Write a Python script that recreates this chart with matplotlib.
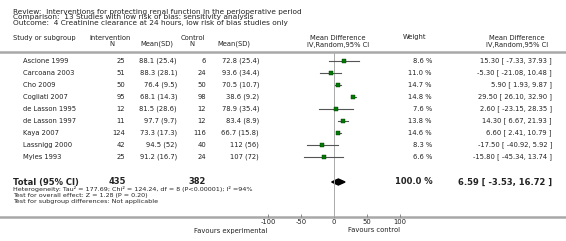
import matplotlib
matplotlib.use('Agg')
import matplotlib.pyplot as plt
from matplotlib.patches import Polygon

# study-level data
studies = ['Ascione 1999', 'Carcoana 2003', 'Cho 2009', 'Cogliati 2007', 'de Lasson 1995',
           'de Lasson 1997', 'Kaya 2007', 'Lassnigg 2000', 'Myles 1993']
int_n = [25, 51, 50, 95, 12, 11, 124, 42, 25]
int_msd = ['88.1 (25.4)', '88.3 (28.1)', '76.4 (9.5)', '68.1 (14.3)', '81.5 (28.6)',
           '97.7 (9.7)', '73.3 (17.3)', '94.5 (52)', '91.2 (16.7)']
ctl_n = [6, 24, 50, 98, 12, 12, 116, 40, 24]
ctl_msd = ['72.8 (25.4)', '93.6 (34.4)', '70.5 (10.7)', '38.6 (9.2)', '78.9 (35.4)',
           '83.4 (8.9)', '66.7 (15.8)', '112 (56)', '107 (72)']
weights = [8.6, 11.0, 14.7, 14.8, 7.6, 13.8, 14.6, 8.3, 6.6]
md = [15.30, -5.30, 5.90, 29.50, 2.60, 14.30, 6.60, -17.50, -15.80]
ci_lo = [-7.33, -21.08, 1.93, 26.10, -23.15, 6.67, 2.41, -40.92, -45.34]
ci_hi = [37.93, 10.48, 9.87, 32.90, 28.35, 21.93, 10.79, 5.92, 13.74]
total_n = (435, 382)
total_md, total_lo, total_hi = 6.59, -3.53, 16.72
ticks = [-100, -50, 0, 50, 100]

W, H = 566, 241
fig = plt.figure(figsize=(W / 100, H / 100), dpi=100)
fig.patch.set_facecolor('white')

# overlay axes in pixel units for the table text
ax0 = fig.add_axes([0, 0, 1, 1])
ax0.set_xlim(0, W)
ax0.set_ylim(H, 0)
ax0.axis('off')

txt = '#222222'
fs = 4.9

def t(x, y, s, ha='left', size=fs, weight='normal', color=txt):
    ax0.text(x, y, s, ha=ha, va='center', fontsize=size, fontweight=weight, color=color)

t(13, 12, 'Review:  Interventions for protecting renal function in the perioperative period', size=5.3)
t(13, 17.5, 'Comparison:  13 Studies with low risk of bias: sensitivity analysis', size=5.3)
t(13, 23.5, 'Outcome:  4 Creatinine clearance at 24 hours, low risk of bias studies only', size=5.3)

t(13, 38, 'Study or subgroup')
t(110, 37.5, 'Intervention', ha='center')
t(112, 44, 'N', ha='center')
t(157, 44, 'Mean(SD)', ha='center')
t(193, 37.5, 'Control', ha='center')
t(192, 44, 'N', ha='center')
t(234, 44, 'Mean(SD)', ha='center')
t(338, 37.5, 'Mean Difference', ha='center')
t(338, 44.5, 'IV,Random,95% CI', ha='center')
t(415, 37.5, 'Weight', ha='center')
t(517, 37.5, 'Mean Difference', ha='center')
t(517, 44.5, 'IV,Random,95% CI', ha='center')

ax0.plot([0, W], [52, 52], color='#a8a8a8', lw=1.8)
ax0.plot([0, W], [217, 217], color='#a8a8a8', lw=1.8)

row_y0, row_dy = 60.7, 12.0
for i, s in enumerate(studies):
    y = row_y0 + row_dy * i
    t(23, y, s)
    t(125, y, str(int_n[i]), ha='right')
    t(177, y, int_msd[i], ha='right')
    t(206, y, str(ctl_n[i]), ha='right')
    t(259, y, ctl_msd[i], ha='right')
    t(432, y, '%.1f %%' % weights[i], ha='right')
    t(552, y, '%.2f [ %.2f, %.2f ]' % (md[i], ci_lo[i], ci_hi[i]), ha='right')

ty = 182
t(13, ty, 'Total (95% CI)', size=6.0, weight='bold')
t(126, ty, str(total_n[0]), ha='right', size=6.0, weight='bold')
t(206, ty, str(total_n[1]), ha='right', size=6.0, weight='bold')
t(433, ty, '100.0 %', ha='right', size=6.0, weight='bold')
t(552, ty, '%.2f [ %.2f, %.2f ]' % (total_md, total_lo, total_hi), ha='right', size=6.0, weight='bold')

t(13, 188.7, 'Heterogeneity: Tau\u00b2 = 177.69; Chi\u00b2 = 124.24, df = 8 (P<0.00001); I\u00b2 =94%', size=4.6)
t(13, 195.2, 'Test for overall effect: Z = 1.28 (P = 0.20)', size=4.6)
t(13, 201.7, 'Test for subgroup differences: Not applicable', size=4.6)

t(231, 230.5, 'Favours experimental', ha='center')
t(374, 230.5, 'Favours control', ha='center')

# forest plot axes: x in mean-difference units, y in row units
x0_px, x1_px = 268, 400
top_px, bot_px = 53, 217
ax = fig.add_axes([x0_px / W, 1 - bot_px / H, (x1_px - x0_px) / W, (bot_px - top_px) / H])
ax.set_xlim(-100, 100)
r_top = (top_px - row_y0) / row_dy
r_bot = (bot_px - row_y0) / row_dy
ax.set_ylim(r_bot, r_top)
ax.patch.set_alpha(0)
for sp in ax.spines.values():
    sp.set_visible(False)
ax.set_yticks([])
ax.set_xticks(ticks)
ax.set_xticklabels([str(v) for v in ticks], fontsize=4.9, color=txt)
ax.tick_params(axis='x', direction='in', length=2, width=0.6, color='#777777', pad=1.5)

ax.axvline(0, color='#aaaaaa', lw=0.7)
for i in range(len(studies)):
    ax.plot([ci_lo[i], ci_hi[i]], [i, i], color='#555555', lw=0.8, clip_on=False)
    side_px = 2.4 + 0.13 * weights[i]
    ax.plot(md[i], i, marker='s', markersize=side_px * 0.72, color='#007a00',
            markeredgecolor='#003300', markeredgewidth=0.3, clip_on=False)

tr = (ty - row_y0) / row_dy
dh = 0.25
ax.add_patch(Polygon([[total_lo, tr], [total_md, tr - dh], [total_hi, tr], [total_md, tr + dh]],
                     closed=True, color='black', clip_on=False))

fig.savefig('out.png', dpi=100)
